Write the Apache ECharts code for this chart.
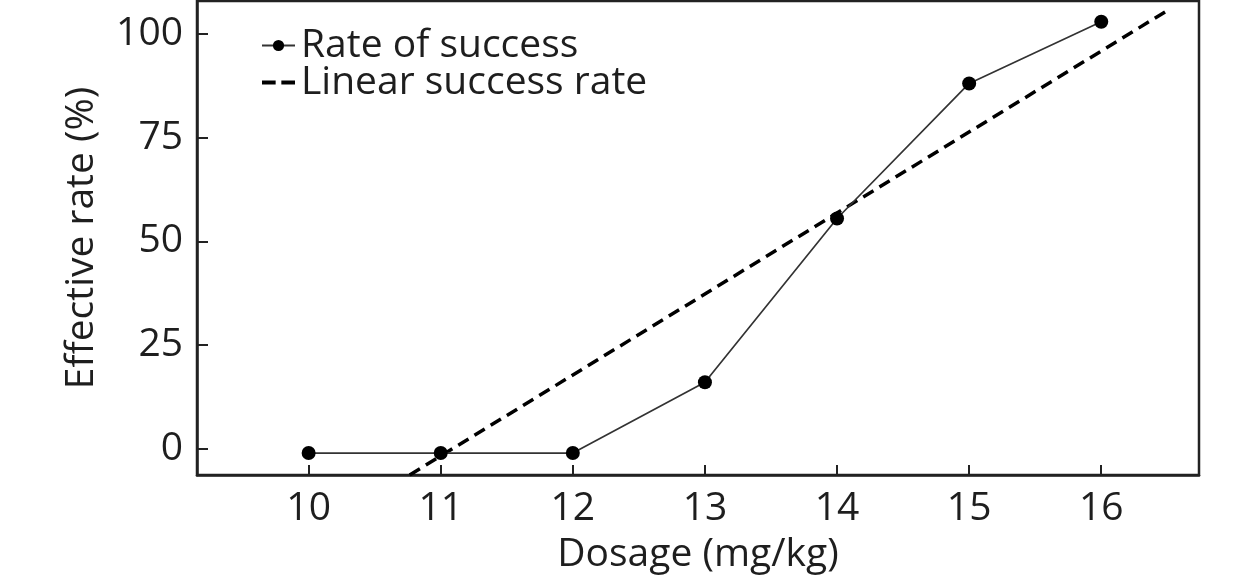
<!DOCTYPE html>
<html>
<head>
<meta charset="utf-8">
<script src="https://cdn.jsdelivr.net/npm/echarts@6/dist/echarts.min.js"></script>
<style>
html,body{margin:0;padding:0;background:#fff;}
#chart{width:1260px;height:584px;}
</style>
</head>
<body>
<div id="chart"></div>
<script>
// Data
const dosage = [10, 11, 12, 13, 14, 15, 16];
const successRate = [-1.1, -1.1, -1.1, 16.0, 55.5, 88.1, 103.0];
// Linear success rate line: endpoints
const linearX = [10.765, 16.5];
const linearY = [-6.4, 105.7];
const xTicks = [10, 11, 12, 13, 14, 15, 16];
const yTicks = [0, 25, 50, 75, 100];

const FONT = 'Open Sans';
const FS = 39;
const TXT = '#1e1e1e';

const chart = echarts.init(document.getElementById('chart'), null, {renderer: 'canvas'});
chart.setOption({
  animation: false,
  backgroundColor: '#fff',
  grid: {
    left: 197, right: 61, top: 1, bottom: 109,
    show: true, borderColor: '#222', borderWidth: 2.5, backgroundColor: 'transparent'
  },
  legend: {
    orient: 'vertical',
    left: 256, top: 21,
    itemGap: -2,
    itemWidth: 33, itemHeight: 14,
    symbolKeepAspect: true,
    textStyle: {fontFamily: FONT, fontSize: FS, color: TXT, padding: [0, 0, 0, 1]},
    data: [
      {name: 'Rate of success'},
      {name: 'Linear success rate', icon: 'path://M0,0h12v3.5h-12z M17,0h12v3.5h-12z'}
    ]
  },
  xAxis: {
    type: 'value',
    min: 9.155, max: 16.74,
    name: 'Dosage (mg/kg)',
    nameLocation: 'middle',
    nameGap: 60,
    nameTextStyle: {fontFamily: FONT, fontSize: FS, color: TXT},
    splitLine: {show: false},
    axisLine: {show: true, onZero: false, lineStyle: {color: '#222', width: 2.5}},
    axisTick: {show: true, inside: true, length: 10, lineStyle: {color: '#222', width: 2}, customValues: xTicks},
    axisLabel: {fontFamily: FONT, fontSize: FS, color: TXT, margin: 14, customValues: xTicks}
  },
  yAxis: {
    type: 'value',
    min: -6.4, max: 108,
    name: 'Effective rate (%)',
    nameLocation: 'middle',
    nameGap: 96,
    nameTextStyle: {fontFamily: FONT, fontSize: FS, color: TXT},
    splitLine: {show: false},
    axisLine: {show: true, onZero: false, lineStyle: {color: '#222', width: 2.5}},
    axisTick: {show: true, inside: true, length: 11, lineStyle: {color: '#222', width: 2}, customValues: yTicks},
    axisLabel: {fontFamily: FONT, fontSize: FS, color: TXT, margin: 14, customValues: yTicks}
  },
  series: [
    {
      name: 'Rate of success',
      type: 'line',
      data: dosage.map((x, i) => [x, successRate[i]]),
      symbol: 'circle',
      symbolSize: 14,
      itemStyle: {color: '#000'},
      lineStyle: {color: '#333', width: 1.7},
      z: 3
    },
    {
      name: 'Linear success rate',
      type: 'line',
      data: linearX.map((x, i) => [x, linearY[i]]),
      symbol: 'none',
      itemStyle: {color: '#000'},
      lineStyle: {color: '#000', width: 3.5, type: [12, 7]},
      clip: true,
      z: 2
    }
  ]
});
</script>
</body>
</html>
